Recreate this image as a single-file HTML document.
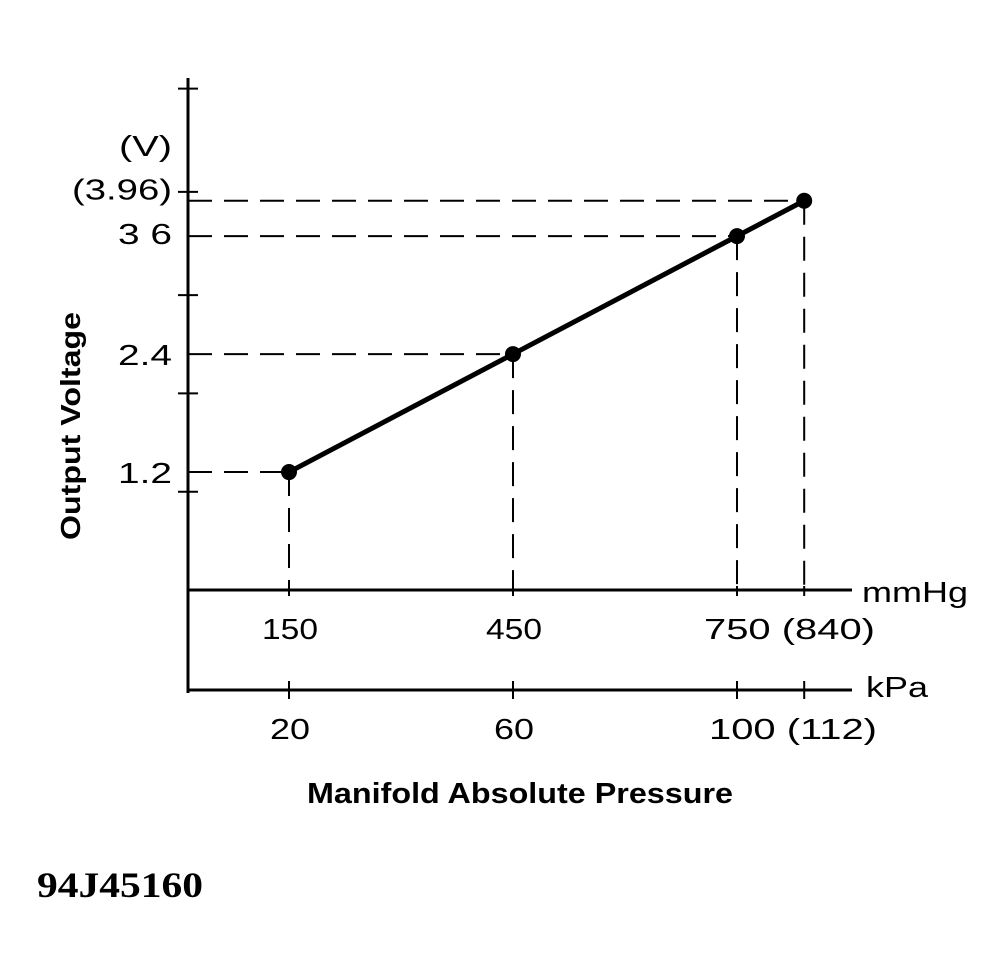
<!DOCTYPE html>
<html><head><meta charset="utf-8"><style>
html,body{margin:0;padding:0;background:#fff;}
svg{display:block;}
text{font-family:"Liberation Sans",sans-serif;fill:#000;}
</style></head><body>
<svg id="chart" width="1005" height="971" viewBox="0 0 1005 971" xmlns="http://www.w3.org/2000/svg">
<g id="axes"></g>
<g id="guides"></g>
<g id="series"></g>
<g id="labels"></g>
<text x="80" y="540" font-size="28" font-weight="bold" textLength="228" lengthAdjust="spacingAndGlyphs" transform="rotate(-90 80 540)">Output Voltage</text>
<text x="307" y="803" font-size="29" font-weight="bold" textLength="426" lengthAdjust="spacingAndGlyphs">Manifold Absolute Pressure</text>
<text x="37" y="897" font-size="36" font-weight="bold" textLength="166" lengthAdjust="spacingAndGlyphs" style="font-family:'Liberation Serif',serif">94J45160</text>
</svg>
<script>
const pressureKpa = [20, 60, 100, 112];
const pressureMmHg = ["150", "450", "750", "(840)"];
const kpaLabels = ["20", "60", "100", "(112)"];
const voltage = [1.2, 2.4, 3.6, 3.96];
const yTickLabels = ["1.2", "2.4", "3 6", "(3.96)"];
const yMinorTicks = [1, 2, 3, 4.05, 5.1];

const NS = "http://www.w3.org/2000/svg";
const X0 = 188, Y0 = 590, KPA_Y = 690;
function xs(k){ return 289 + (k - 20) * 5.6; }
function ys(v){ return Y0 - 98.3 * v; }
function mk(parent, tag, attrs){
  const e = document.createElementNS(NS, tag);
  for (const k in attrs) e.setAttribute(k, attrs[k]);
  parent.appendChild(e); return e;
}
function txt(x, y, s, len){
  const t = mk(document.getElementById('labels'), 'text', {x:x, y:y, 'font-size':29, textLength:len, lengthAdjust:'spacingAndGlyphs'});
  t.textContent = s;
  return t;
}
function charLen(s){ let n = 0; for (const c of s) n += (c === '(' || c === ')' || c === '.' || c === ' ') ? 9 : 18.5; return n; }
const axes = document.getElementById('axes');
const guides = document.getElementById('guides');
const series = document.getElementById('series');

let e;
e = mk(axes, 'line', {x1:X0, y1:78, x2:X0, y2:693, stroke:'#000', 'stroke-width':3});


e = mk(axes, 'line', {x1:X0, y1:Y0, x2:852, y2:Y0, stroke:'#000', 'stroke-width':3});


e = mk(axes, 'line', {x1:X0, y1:KPA_Y, x2:852, y2:KPA_Y, stroke:'#000', 'stroke-width':3});



yMinorTicks.forEach(v => {
  const t = mk(axes, 'line', {x1:X0-10, y1:ys(v), x2:X0+10, y2:ys(v), stroke:'#000', 'stroke-width':2});
  
  
});

e = txt(119, 156, '(V)', 53);


e = txt(862, 602, 'mmHg', 106);


e = txt(866, 697, 'kPa', 62);



const yLabelOffset = [0, 0, -3, -12];
pressureKpa.forEach((k, i) => {
  const x = xs(k), y = ys(voltage[i]);
  const h = mk(guides, 'line', {x1:X0, y1:y, x2:x, y2:y, stroke:'#000', 'stroke-width':2, 'stroke-dasharray':'24 12'});
  
  
  const v = mk(guides, 'line', {x1:x, y1:y, x2:x, y2:Y0, stroke:'#000', 'stroke-width':2, 'stroke-dasharray':'24 12'});
  
  
  const tk = mk(axes, 'line', {x1:x, y1:KPA_Y-9, x2:x, y2:KPA_Y+9, stroke:'#000', 'stroke-width':2});
  
  
  const tk2 = mk(axes, 'line', {x1:x, y1:Y0-4, x2:x, y2:Y0+6, stroke:'#000', 'stroke-width':2});
  
  
  const s = yTickLabels[i];
  const L = i === 3 ? 100 : 54;
  const yl = txt(172 - L, y + 11 + yLabelOffset[i], s, L);
  
  
});

const last = pressureKpa.length - 1;
pressureKpa.forEach((k, i) => {
  if (i === last) return;
  const x = xs(k);
  let m, kp;
  if (i === last - 1) {
    m = txt(x - 33, 639, pressureMmHg[i] + ' ' + pressureMmHg[last], 171);
    kp = txt(x - 28, 739, kpaLabels[i] + ' ' + kpaLabels[last], 168);
  } else {
    m = txt(x - 27, 639, pressureMmHg[i], 56);
    kp = txt(x - 19, 739, kpaLabels[i], 40);
  }
  
  
  
  
});

const pts = pressureKpa.map((k, i) => xs(k) + ',' + ys(voltage[i])).join(' ');
e = mk(series, 'polyline', {points:pts, fill:'none', stroke:'#000', 'stroke-width':5});


pressureKpa.forEach((k, i) => {
  const c = mk(series, 'circle', {cx:xs(k), cy:ys(voltage[i]), r:8, fill:'#000'});
  
  
});
</script>
</body></html>
